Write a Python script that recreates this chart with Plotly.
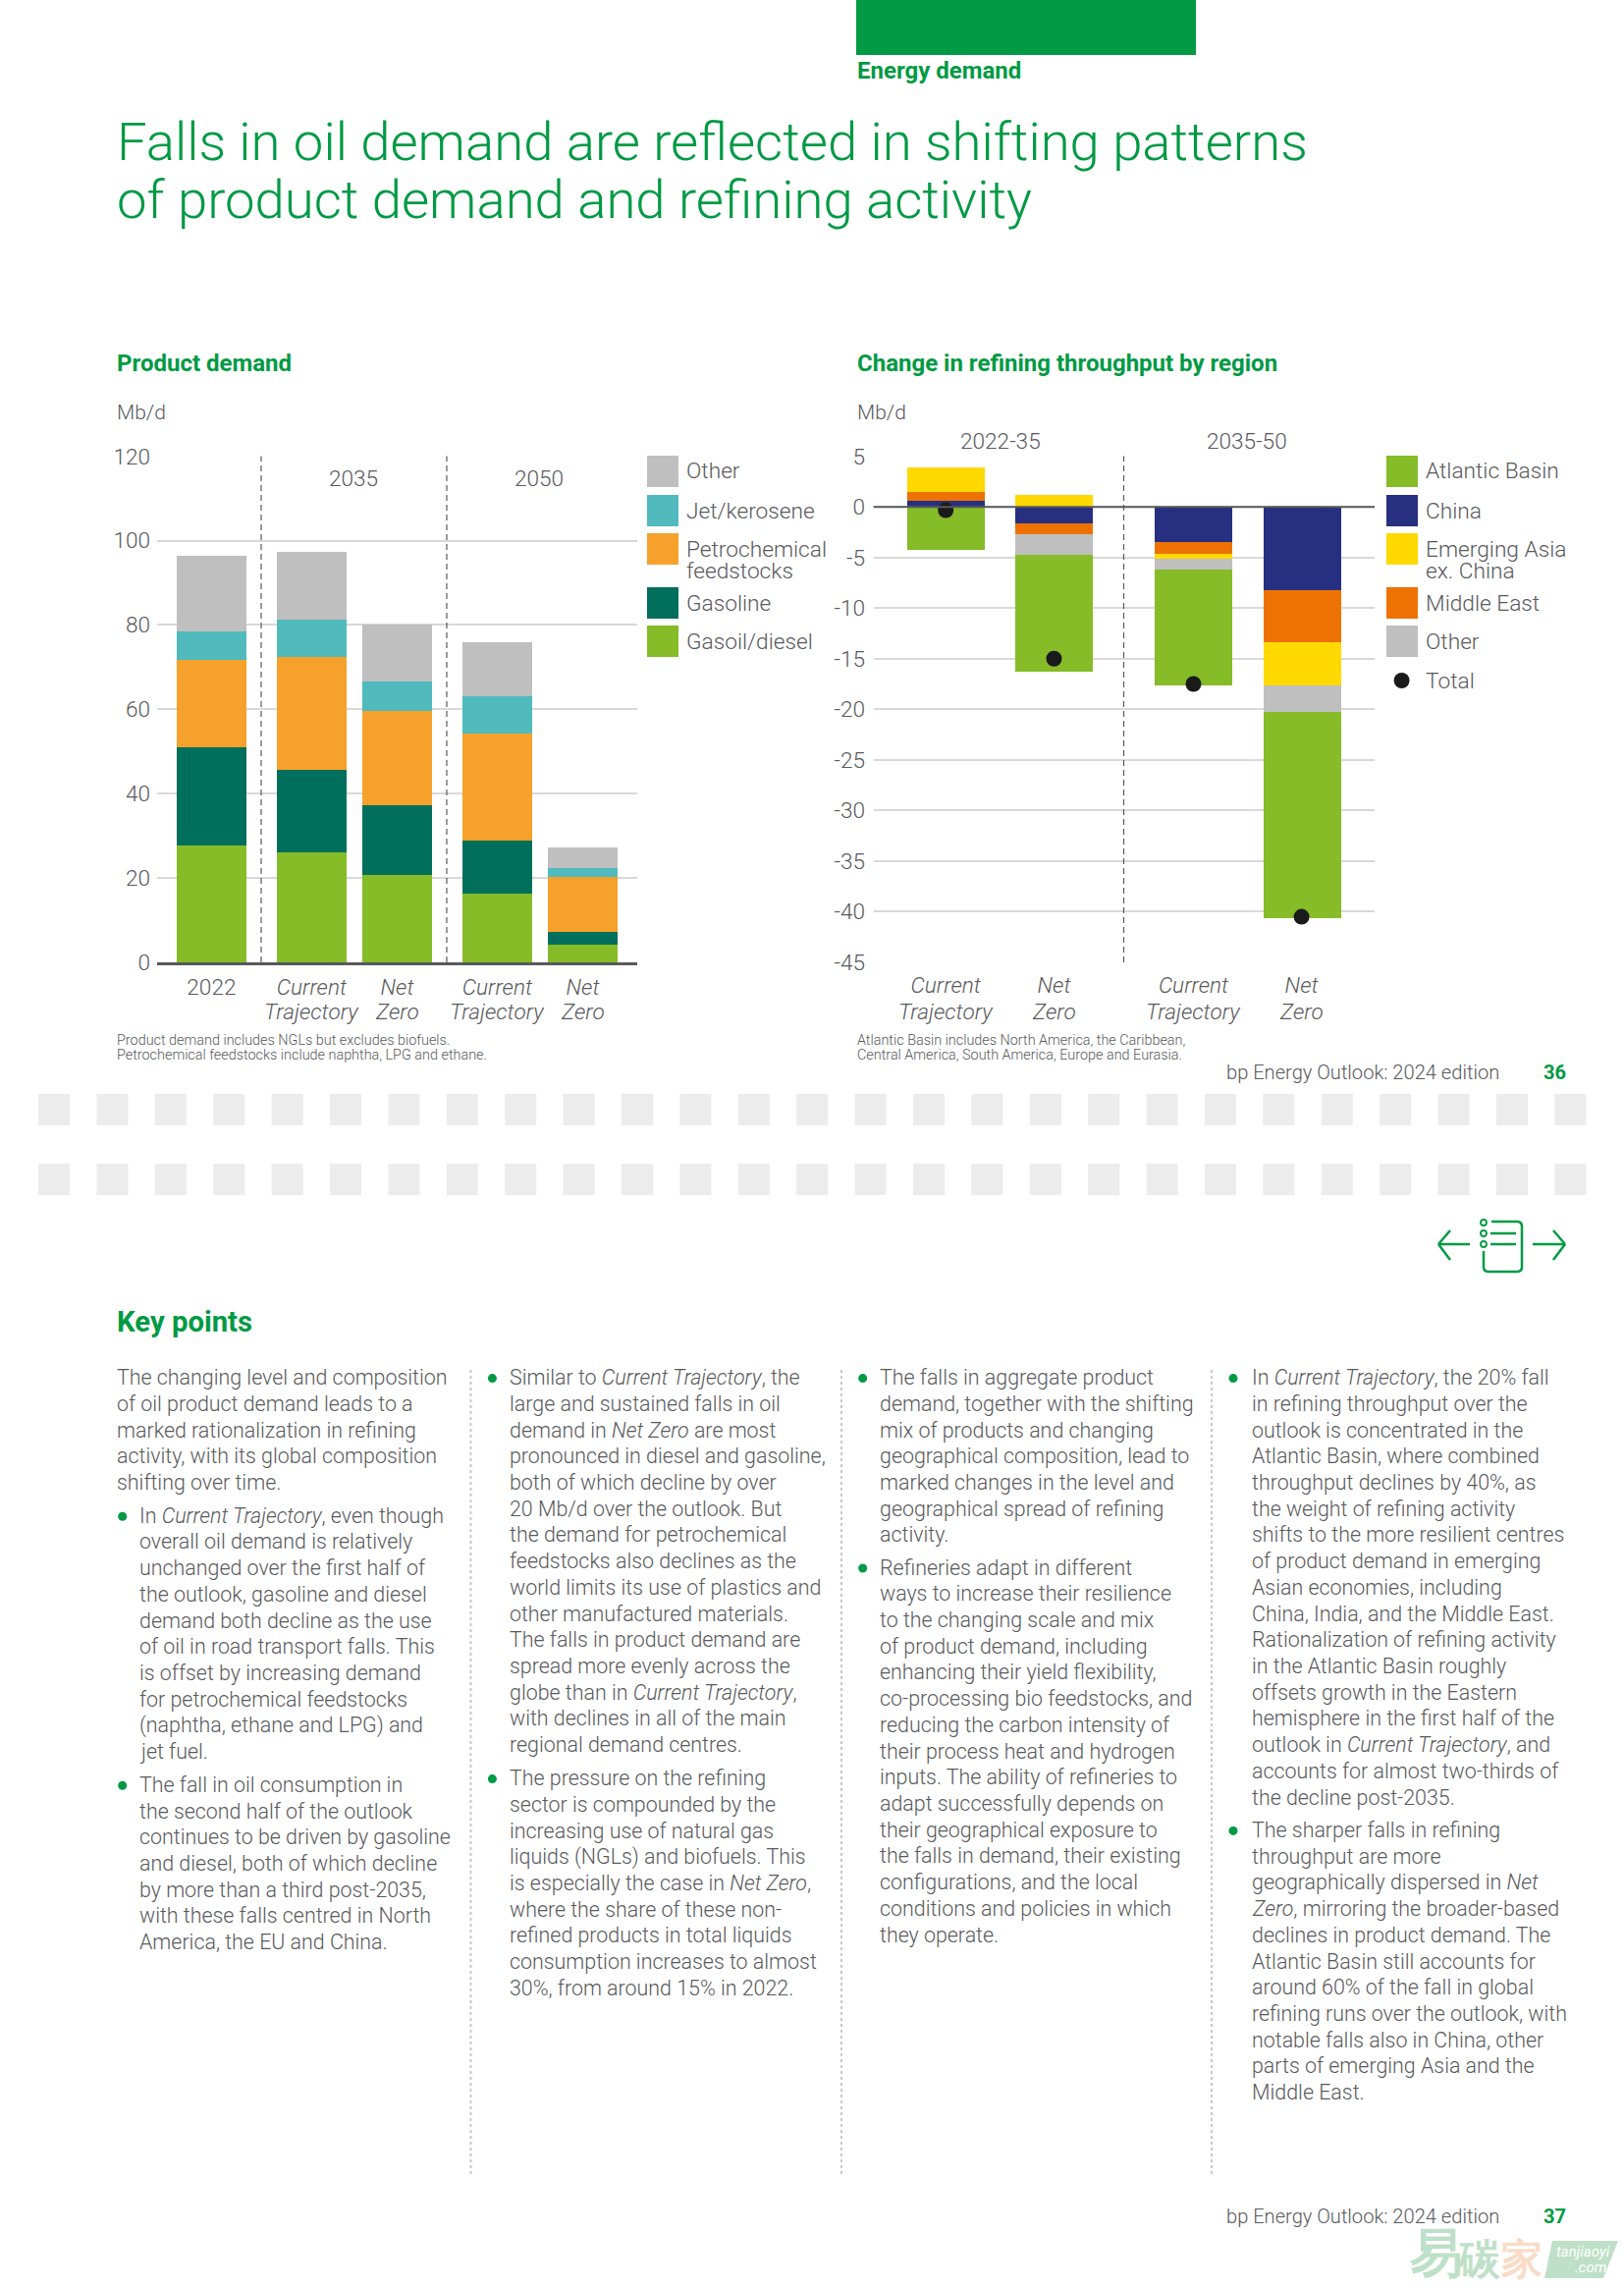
import plotly.graph_objects as go

W, H = 1654, 2331
FONT = "Roboto"
GREY = "#58595b"
GREEN = "#009a44"
GRID = "#d9d9d9"

# ---------- chart data ----------
product_first_line = ["2022", "Current", "Net", "Current", "Net"]
product_second_line = ["", "Trajectory", "Zero", "Trajectory", "Zero"]
gasoil = [27.9, 26.1, 20.7, 16.5, 4.2]
gasoline = [23.2, 19.7, 16.6, 12.5, 3.0]
petrochemical = [20.8, 26.6, 22.3, 25.4, 13.1]
jet = [6.6, 8.9, 7.0, 8.9, 2.1]
other_product = [18.1, 16.2, 13.7, 12.8, 5.0]

refining_first_line = ["Current", "Net", "Current", "Net"]
refining_second_line = ["Trajectory", "Zero", "Trajectory", "Zero"]
china = [0.66, -1.55, -3.48, -8.22]
middle_east = [0.8, -1.08, -1.17, -5.08]
emerging_asia = [2.5, 1.17, -0.47, -4.28]
other_region = [0, -2.1, -1.08, -2.68]
atlantic = [-4.18, -11.56, -11.37, -20.3]
total = [-0.33, -15.0, -17.5, -40.5]

left_ticks = [0, 20, 40, 60, 80, 100, 120]
right_ticks = [5, 0, -5, -10, -15, -20, -25, -30, -35, -40, -45]
right_tick_labels = ["5", "0", "-5", "-10", "-15", "-20", "-25", "-30", "-35", "-40", "-45"]

# axis-unit positions of the bars (axes are spanned in page pixels)
left_pos = [55.8, 157.8, 244.9, 346.8, 433.9]
right_pos = [73.6, 183.9, 325.9, 436.0]

# ---------- page text ----------
intro = ["The changing level and composition", "of oil product demand leads to a", "marked rationalization in refining",
         "activity, with its global composition", "shifting over time."]
c1b1 = ["In <i>Current Trajectory</i>, even though", "overall oil demand is relatively", "unchanged over the first half of",
        "the outlook, gasoline and diesel", "demand both decline as the use", "of oil in road transport falls. This",
        "is offset by increasing demand", "for petrochemical feedstocks", "(naphtha, ethane and LPG) and", "jet fuel."]
c1b2 = ["The fall in oil consumption in", "the second half of the outlook", "continues to be driven by gasoline",
        "and diesel, both of which decline", "by more than a third post-2035,", "with these falls centred in North",
        "America, the EU and China."]
c2b1 = ["Similar to <i>Current Trajectory</i>, the", "large and sustained falls in oil", "demand in <i>Net Zero</i> are most",
        "pronounced in diesel and gasoline,", "both of which decline by over", "20 Mb/d over the outlook. But",
        "the demand for petrochemical", "feedstocks also declines as the", "world limits its use of plastics and",
        "other manufactured materials.", "The falls in product demand are", "spread more evenly across the",
        "globe than in <i>Current Trajectory</i>,", "with declines in all of the main", "regional demand centres."]
c2b2 = ["The pressure on the refining", "sector is compounded by the", "increasing use of natural gas",
        "liquids (NGLs) and biofuels. This", "is especially the case in <i>Net Zero</i>,", "where the share of these non-",
        "refined products in total liquids", "consumption increases to almost", "30%, from around 15% in 2022."]
c3b1 = ["The falls in aggregate product", "demand, together with the shifting", "mix of products and changing",
        "geographical composition, lead to", "marked changes in the level and", "geographical spread of refining", "activity."]
c3b2 = ["Refineries adapt in different", "ways to increase their resilience", "to the changing scale and mix",
        "of product demand, including", "enhancing their yield flexibility,", "co-processing bio feedstocks, and",
        "reducing the carbon intensity of", "their process heat and hydrogen", "inputs. The ability of refineries to",
        "adapt successfully depends on", "their geographical exposure to", "the falls in demand, their existing",
        "configurations, and the local", "conditions and policies in which", "they operate."]
c4b1 = ["In <i>Current Trajectory</i>, the 20% fall", "in refining throughput over the", "outlook is concentrated in the",
        "Atlantic Basin, where combined", "throughput declines by 40%, as", "the weight of refining activity",
        "shifts to the more resilient centres", "of product demand in emerging", "Asian economies, including",
        "China, India, and the Middle East.", "Rationalization of refining activity", "in the Atlantic Basin roughly",
        "offsets growth in the Eastern", "hemisphere in the first half of the", "outlook in <i>Current Trajectory</i>, and",
        "accounts for almost two-thirds of", "the decline post-2035."]
c4b2 = ["The sharper falls in refining", "throughput are more", "geographically dispersed in <i>Net</i>",
        "<i>Zero</i>, mirroring the broader-based", "declines in product demand. The", "Atlantic Basin still accounts for",
        "around 60% of the fall in global", "refining runs over the outlook, with", "notable falls also in China, other",
        "parts of emerging Asia and the", "Middle East."]


def px(x):
    return x / W


def py(y):
    return 1 - y / H


annotations, shapes = [], []


def txt(x, y, s, size=21.4, color=GREY, weight=300, anchor="left", xref="paper"):
    annotations.append(dict(x=px(x) if xref == "paper" else x, y=py(y), xref=xref, yref="paper", text=s,
                            showarrow=False, xanchor=anchor, yanchor="middle", align=anchor, borderpad=0,
                            font=dict(family=FONT, size=size, color=color, weight=weight)))


def rect(x0, y0, x1, y1, color):
    shapes.append(dict(type="rect", xref="paper", yref="paper", x0=px(x0), x1=px(x1), y0=py(y0), y1=py(y1),
                       fillcolor=color, line=dict(width=0), layer="below"))


def seg(x0, y0, x1, y1, color=GREEN, width=2.5, dash="solid"):
    shapes.append(dict(type="line", xref="paper", yref="paper", x0=px(x0), x1=px(x1), y0=py(y0), y1=py(y1),
                       line=dict(color=color, width=width, dash=dash)))


def circle(cx, cy, r, fill=GREEN, line=None):
    shapes.append(dict(type="circle", xref="paper", yref="paper", x0=px(cx - r), x1=px(cx + r),
                       y0=py(cy - r), y1=py(cy + r), fillcolor=fill,
                       line=dict(width=1.8 if line else 0, color=line or fill)))


# header
rect(872, 0, 1218, 56, GREEN)
txt(872, 72, "Energy demand", 24, GREEN, 700)
txt(118, 144, "Falls in oil demand are reflected in shifting patterns", 54.5, GREEN)
txt(118, 203, "of product demand and refining activity", 54.5, GREEN)

# chart headings
txt(118, 370, "Product demand", 24, GREEN, 700)
txt(872, 370, "Change in refining throughput by region", 24, GREEN, 700)
txt(118, 420, "Mb/d", 21)
txt(872, 420, "Mb/d", 21)
txt(360, 488, "2035", 22.6, anchor="center")
txt(549, 488, "2050", 22.6, anchor="center")
txt(1018.5, 449.5, "2022-35", 22.6, anchor="center")
txt(1270, 449.5, "2035-50", 22.6, anchor="center")

# second lines of the x tick labels (the reference's line spacing is tighter than Plotly's tick labels allow)
for pos, lab in zip(left_pos, product_second_line):
    if lab:
        txt(pos, 1030, f"<i>{lab}</i>", 22.6, anchor="center", xref="x")
for pos, lab in zip(right_pos, refining_second_line):
    txt(pos, 1030, f"<i>{lab}</i>", 22.6, anchor="center", xref="x2")

# legends
left_legend = [("#BFBFBF", 464, ["Other"]), ("#50BABD", 504, ["Jet/kerosene"]),
               ("#F5A12B", 543, ["Petrochemical", "feedstocks"]), ("#006F5B", 598, ["Gasoline"]),
               ("#85BC27", 637, ["Gasoil/diesel"])]
right_legend = [("#85BC27", 464, ["Atlantic Basin"]), ("#272F80", 504, ["China"]),
                ("#FFD900", 543, ["Emerging Asia", "ex. China"]), ("#EE7203", 598, ["Middle East"]),
                ("#BFBFBF", 637, ["Other"])]
for items, sx, tx in ((left_legend, 659, 698), (right_legend, 1412, 1451)):
    for col, y, lab in items:
        rect(sx, y, sx + 32, y + 32, col)
        if len(lab) == 1:
            txt(tx, y + 16, lab[0], 22.7)
        else:
            txt(tx, y + 16.5, lab[0], 22.7)
            txt(tx, y + 38.5, lab[1], 22.7)
circle(1427.6, 693, 8, "#1a1a1a")
txt(1451, 693, "Total", 22.7)

# footnotes and footers
txt(118, 1059, "Product demand includes NGLs but excludes biofuels.", 14.4)
txt(118, 1074, "Petrochemical feedstocks include naphtha, LPG and ethane.", 14.4)
txt(872, 1059, "Atlantic Basin includes North America, the Caribbean,", 14.4)
txt(872, 1074, "Central America, South America, Europe and Eurasia.", 14.4)
for y, page in ((1092, "36"), (2257, "37")):
    txt(1248, y, "bp Energy Outlook: 2024 edition", 20.1)
    txt(1583, y, page, 20.1, GREEN, 700, "center")

# page-break blocks
for top in (1114, 1185):
    for i in range(27):
        rect(39 + i * 59.4, top, 71 + i * 59.4, top + 32, "#ECECEC")

# navigation icon
seg(1465, 1267, 1497, 1267)
seg(1477, 1253, 1465, 1267)
seg(1477, 1283, 1465, 1267)
seg(1561, 1267, 1594, 1267)
seg(1582, 1253, 1594, 1267)
seg(1582, 1283, 1594, 1267)
shapes.append(dict(type="path", xref="paper", yref="paper",
                   path=f"M {px(1519)} {py(1244)} L {px(1545)} {py(1244)} Q {px(1550)} {py(1244)} {px(1550)} {py(1249)} "
                        f"L {px(1550)} {py(1290)} Q {px(1550)} {py(1295)} {px(1545)} {py(1295)} L {px(1516)} {py(1295)} "
                        f"Q {px(1511)} {py(1295)} {px(1511)} {py(1290)} L {px(1511)} {py(1274)}",
                   line=dict(color=GREEN, width=2.5)))
for cy in (1245, 1256, 1267):
    circle(1511, cy, 3, "white", GREEN)
for cy in (1256, 1267):
    seg(1518, cy, 1544, cy)

# key points
txt(118, 1345.5, "Key points", 29.3, GREEN, 700)
STEP = 26.72


def para(x, y, lines, bullet=None):
    for i, line in enumerate(lines):
        txt(x, y + i * STEP, line)
    if bullet is not None:
        circle(bullet, y + 1, 4.5)


para(118, 1402.6, intro)
para(141, 1543.2, c1b1, 124.7)
para(141, 1817.3, c1b2, 124.7)
para(518, 1402.6, c2b1, 501.4)
para(518, 1810.6, c2b2, 501.4)
para(895.4, 1402.6, c3b1, 878.7)
para(895.4, 1596, c3b2, 878.7)
para(1273.7, 1402.6, c4b1, 1256)
para(1273.7, 1863.4, c4b2, 1256)
for x in (479.5, 857, 1234):
    seg(x, 1395, x, 2215, "#c8c8c8", 2, "dot")

# watermark
txt(1462, 2294, "易", 54, "#bfe0c8", 700, "center")
txt(1506, 2300, "碳", 42, "#bfe0c8", 700, "center")
txt(1550, 2300, "家", 42, "#f8dcc8", 700, "center")
shapes.append(dict(type="path", xref="paper", yref="paper", fillcolor="#bfe0c8", line=dict(width=0),
                   path=f"M {px(1581)} {py(2282)} L {px(1648)} {py(2282)} L {px(1633)} {py(2320)} L {px(1573)} {py(2320)} Z"))
txt(1612, 2293, "<i>tanjiaoyi</i>", 15, "white", 400, "center")
txt(1620, 2309, "<i>.com</i>", 15, "white", 400, "center")

# ---------- traces ----------
fig = go.Figure()
for name, vals, col in (("Gasoil/diesel", gasoil, "#85BC27"), ("Gasoline", gasoline, "#006F5B"),
                        ("Petrochemical feedstocks", petrochemical, "#F5A12B"), ("Jet/kerosene", jet, "#50BABD"),
                        ("Other", other_product, "#BFBFBF")):
    fig.add_trace(go.Bar(x=left_pos, y=vals, name=name, marker=dict(color=col, line=dict(width=0)),
                         width=71, xaxis="x", yaxis="y", showlegend=False))
for name, vals, col in (("China", china, "#272F80"), ("Middle East", middle_east, "#EE7203"),
                        ("Emerging Asia ex. China", emerging_asia, "#FFD900"), ("Other", other_region, "#BFBFBF"),
                        ("Atlantic Basin", atlantic, "#85BC27")):
    fig.add_trace(go.Bar(x=right_pos, y=vals, name=name, marker=dict(color=col, line=dict(width=0)),
                         width=79, xaxis="x2", yaxis="y2", showlegend=False))
fig.add_trace(go.Scatter(x=right_pos, y=total, mode="markers", name="Total", xaxis="x2", yaxis="y2",
                         marker=dict(color="#1a1a1a", size=16), showlegend=False))

# separators and the right chart's zero line
for ax, xv in (("x", 106.4), ("x", 295.4), ("x2", 254.9)):
    yr = "y domain" if ax == "x" else "y2 domain"
    shapes.append(dict(type="line", xref=ax, yref=yr, x0=xv, x1=xv, y0=0, y1=1,
                       line=dict(color=GREY, width=1.2, dash="6px,4px"), layer="above"))
shapes.append(dict(type="line", xref="x2 domain", yref="y2", x0=0, x1=1, y0=0, y1=0,
                   line=dict(color=GREY, width=2), layer="above"))

axis_font = dict(family=FONT, size=22.6, color=GREY, weight=300)
common_y = dict(showgrid=True, gridcolor=GRID, gridwidth=1.5, zeroline=False, showline=False, automargin=False,
                ticks="outside", tickcolor="rgba(0,0,0,0)", tickfont=axis_font)
common_x = dict(showgrid=False, zeroline=False, ticks="outside", ticklen=3, tickcolor="rgba(0,0,0,0)",
                automargin=False, tickfont=axis_font, tickangle=0)


def tick_text(labels):
    return [g if g == "2022" else f"<i>{g}</i>" for g in labels]


fig.update_layout(
    width=W, height=H, margin=dict(l=0, r=0, t=0, b=0, autoexpand=False), paper_bgcolor="white", plot_bgcolor="white",
    barmode="relative", bargap=0, showlegend=False, font=dict(family=FONT, color=GREY),
    xaxis=dict(common_x, domain=[px(159.6), px(648.7)], range=[0, 489.1], tickmode="array",
               tickvals=left_pos, ticktext=tick_text(product_first_line), showline=True, linecolor=GREY, linewidth=2.5,
               anchor="y"),
    yaxis=dict(common_y, domain=[py(980), py(464.6)], range=[0, 120], tickmode="array", ticklen=1,
               tickvals=left_ticks, anchor="x"),
    xaxis2=dict(common_x, domain=[px(889.6), px(1400)], range=[0, 510.4], tickmode="array",
                tickvals=right_pos, ticktext=tick_text(refining_first_line), showline=False, anchor="y2"),
    yaxis2=dict(common_y, domain=[py(980), py(464.6)], range=[-45, 5], tickmode="array", ticklen=3,
                tickvals=right_ticks, ticktext=right_tick_labels, anchor="x2"),
    annotations=annotations, shapes=shapes,
)
fig.write_html("out.html", config={"displayModeBar": False}, post_script="document.body.style.margin='0';")
